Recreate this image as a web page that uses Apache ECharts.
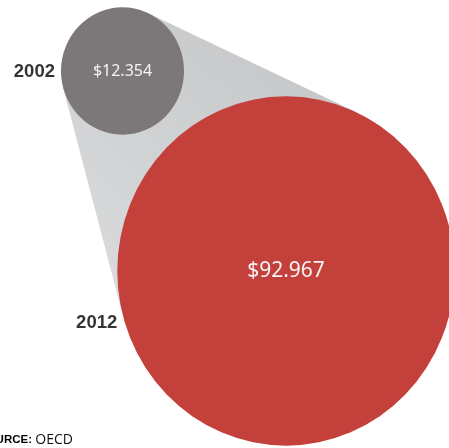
<!DOCTYPE html>
<html>
<head>
<meta charset="utf-8">
<script src="https://cdn.jsdelivr.net/npm/echarts@6/dist/echarts.min.js"></script>
<style>
  html, body { margin: 0; padding: 0; background: #ffffff; }
  #chart { width: 449px; height: 448px; }
</style>
</head>
<body>
<div id="chart"></div>
<script>
// Spending in 2002 vs 2012 (source: OECD)
const years = ['2002', '2012'];
const amounts = [12.354, 92.967];

const FONT = '"Open Sans", "Noto Sans", sans-serif';
const BOLD_FONT = '"Liberation Sans", Arial, sans-serif';
const STRETCH = 1.035;          // bubbles are drawn slightly taller than wide
const SIZE_K = 35;              // diameter = SIZE_K * sqrt(value)

function diameter(v) { return SIZE_K * Math.sqrt(v); }

const bubbleColors = ['#7c7778', '#c3403b'];
const valueFont = [16, 21];
const yearLabel = [
  { distance: 6, offset: [0, 1] },
  { distance: 0, offset: [0, 52] }
];

const points = years.map((y, i) => [y, y, amounts[i]]);

// Outer tangent "cone" joining the two bubbles
function renderCone(params, api) {
  const a = api.coord([years[0], years[0]]);
  const b = api.coord([years[1], years[1]]);
  const r1 = diameter(amounts[0]) / 2;
  const r2 = diameter(amounts[1]) / 2;
  // work in unstretched space
  const c1 = [a[0], a[1] / STRETCH];
  const c2 = [b[0], b[1] / STRETCH];
  const dx = c2[0] - c1[0], dy = c2[1] - c1[1];
  const d = Math.hypot(dx, dy);
  const ux = dx / d, uy = dy / d;
  const cos = (r1 - r2) / d;
  const sin = Math.sqrt(1 - cos * cos);
  const nA = [ux * cos - uy * sin, uy * cos + ux * sin];
  const nB = [ux * cos + uy * sin, uy * cos - ux * sin];
  const pt = (c, r, n) => [c[0] + r * n[0], (c[1] + r * n[1]) * STRETCH];
  return {
    type: 'polygon',
    shape: { points: [pt(c1, r1, nA), pt(c1, r1, nB), pt(c2, r2, nB), pt(c2, r2, nA)] },
    style: {
      fill: new echarts.graphic.LinearGradient(1, 0, 0, 1, [
        { offset: 0, color: '#c2c3c5' },
        { offset: 1, color: '#dcdddf' }
      ])
    },
    z2: 0
  };
}

const chart = echarts.init(document.getElementById('chart'), null, { renderer: 'canvas' });
chart.setOption({
  animation: false,
  backgroundColor: '#ffffff',
  grid: { left: 122.5, top: 71, width: 163.5, height: 200, containLabel: false },
  xAxis: { type: 'category', data: years, boundaryGap: false, show: false },
  yAxis: { type: 'category', data: years, boundaryGap: false, inverse: true, show: false },
  series: [
    {
      type: 'custom',
      z: 1,
      clip: false,
      data: [[years[0], years[0]]],
      renderItem: renderCone,
      silent: true
    },
    {
      type: 'scatter',
      z: 2,
      clip: false,
      symbol: 'circle',
      symbolSize: (v) => { const s = diameter(v[2]); return [s, s * STRETCH]; },
      data: points.map((p, i) => ({
        value: p,
        itemStyle: { color: bubbleColors[i], opacity: 1 },
        label: {
          show: true,
          position: 'inside',
          formatter: (prm) => '$' + prm.value[2].toFixed(3),
          color: '#f5f3f3',
          fontFamily: '"Noto Sans", "Open Sans", sans-serif',
          fontSize: valueFont[i]
        }
      }))
    },
    {
      type: 'scatter',
      z: 3,
      clip: false,
      symbol: 'circle',
      symbolSize: (v) => { const s = diameter(v[2]); return [s, s * STRETCH]; },
      itemStyle: { color: 'rgba(0,0,0,0)' },
      data: points.map((p, i) => ({
        value: p,
        label: {
          show: true,
          position: 'left',
          distance: yearLabel[i].distance,
          offset: yearLabel[i].offset,
          formatter: (prm) => prm.value[0],
          color: '#000000',
          fontFamily: BOLD_FONT,
          fontWeight: 'bold',
          fontSize: 18.5
        }
      }))
    }
  ],
  graphic: [
    {
      type: 'text',
      left: -21,
      top: 433,
      style: {
        text: '{s|SOURCE:} {o|OECD}',
        rich: {
          s: { fontFamily: BOLD_FONT, fontWeight: 'bold', fontSize: 11.5, fill: '#000000' },
          o: { fontFamily: FONT, fontSize: 14, fill: '#111111' }
        }
      }
    }
  ]
});
</script>
</body>
</html>
